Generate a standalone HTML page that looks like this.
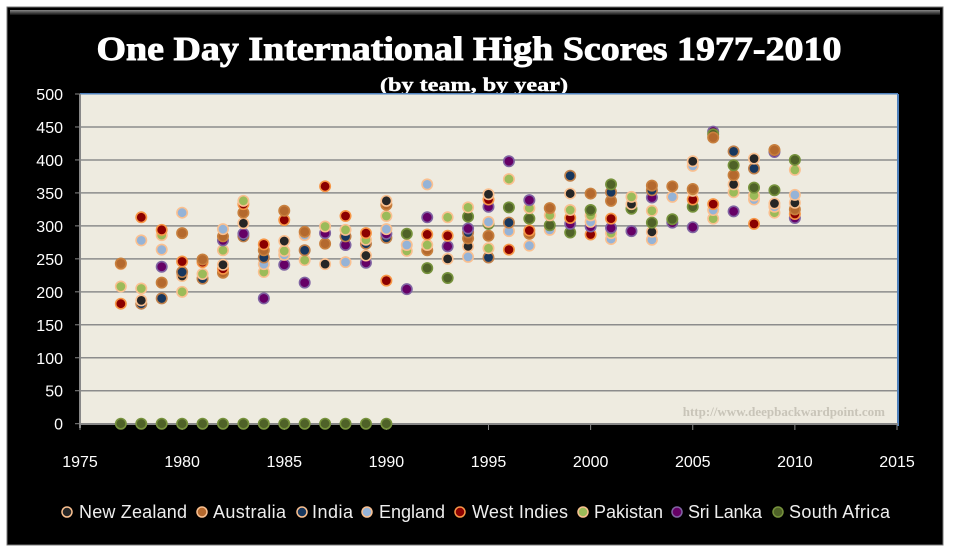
<!DOCTYPE html>
<html><head><meta charset="utf-8"><style>
html,body{margin:0;padding:0;background:#fff;width:954px;height:556px;overflow:hidden}
svg{display:block}
</style></head><body>
<svg id="s" width="954" height="556" xmlns="http://www.w3.org/2000/svg">
<defs>
<linearGradient id="bev" x1="0" y1="0" x2="0" y2="1"><stop offset="0" stop-color="#888"/><stop offset="1" stop-color="#111"/></linearGradient>
</defs>
<rect x="7" y="7" width="936" height="538" fill="#000" stroke="#777" stroke-width="1"/>
<rect x="10" y="10" width="930" height="5" fill="url(#bev)"/>
<text x="469" y="60" text-anchor="middle" fill="#fff" stroke="#fff" stroke-width="0.9" font-family="Liberation Serif, serif" font-weight="bold" font-size="34" textLength="745" lengthAdjust="spacingAndGlyphs">One Day International High Scores 1977-2010</text>
<text x="474" y="91" text-anchor="middle" fill="#fff" stroke="#fff" stroke-width="0.4" font-family="Liberation Serif, serif" font-weight="bold" font-size="19" textLength="188" lengthAdjust="spacingAndGlyphs">(by team, by year)</text>
<rect x="80" y="94" width="817" height="330" fill="#eeebe0"/>
<rect x="897" y="94" width="2" height="332" fill="#4f81bd"/>
<rect x="80" y="93" width="818" height="1.5" fill="#4f81bd"/>
<g id="grid" stroke="#8c8c8c" stroke-width="1.5"></g>
<line x1="80" y1="94" x2="80" y2="428" stroke="#888" stroke-width="2"/>
<line x1="80" y1="424" x2="898" y2="424" stroke="#888" stroke-width="2"/>
<g id="lbl" font-family="Liberation Sans, sans-serif" font-size="16" fill="#fff"></g>
<text x="885" y="416" text-anchor="end" fill="#c8c4b8" font-family="Liberation Serif, serif" font-weight="bold" font-size="13">http://www.deepbackwardpoint.com</text>
<g id="pts"></g>
<g font-family="Liberation Sans, sans-serif" font-size="18" fill="#eee" lengthAdjust="spacingAndGlyphs">
<circle cx="67" cy="512" r="5" fill="#262626" stroke="#fac090" stroke-width="1.5"/><text x="79" y="518" textLength="108">New Zealand</text>
<circle cx="202" cy="512" r="5" fill="#b4692e" stroke="#fac090" stroke-width="1.5"/><text x="213" y="518" textLength="73">Australia</text>
<circle cx="302" cy="512" r="5" fill="#17375e" stroke="#fac090" stroke-width="1.5"/><text x="312" y="518" textLength="41">India</text>
<circle cx="367" cy="512" r="5" fill="#95b3d7" stroke="#fac090" stroke-width="1.5"/><text x="379" y="518" textLength="66">England</text>
<circle cx="460" cy="512" r="5" fill="#8b0000" stroke="#f79646" stroke-width="1.5"/><text x="472" y="518" textLength="96">West Indies</text>
<circle cx="583" cy="512" r="5" fill="#9bbb59" stroke="#fac090" stroke-width="1.5"/><text x="594" y="518" textLength="69">Pakistan</text>
<circle cx="677" cy="512" r="5" fill="#660066" stroke="#8064a2" stroke-width="1.5"/><text x="688" y="518" textLength="74">Sri Lanka</text>
<circle cx="778" cy="512" r="5" fill="#4f6228" stroke="#76923c" stroke-width="1.5"/><text x="789" y="518" textLength="101">South Africa</text>
</g>
</svg>
<script>
var NS="http://www.w3.org/2000/svg";
function X(y){return 80+(y-1975)*20.425}
function Y(v){return 423.7-v*0.6594}
var g=document.getElementById('grid'),l=document.getElementById('lbl');
for(var v=50;v<=450;v+=50){var e=document.createElementNS(NS,'line');e.setAttribute('x1',80);e.setAttribute('x2',897);e.setAttribute('y1',Y(v));e.setAttribute('y2',Y(v));g.appendChild(e);}
for(var v=0;v<=500;v+=50){var t=document.createElementNS(NS,'text');t.setAttribute('x',63);t.setAttribute('y',Y(v)+6);t.setAttribute('text-anchor','end');t.textContent=v;l.appendChild(t);
var k=document.createElementNS(NS,'line');k.setAttribute('x1',75);k.setAttribute('x2',80);k.setAttribute('y1',Y(v));k.setAttribute('y2',Y(v));k.setAttribute('stroke','#888');l.appendChild(k);}
for(var y=1975;y<=2015;y+=5){var t=document.createElementNS(NS,'text');t.setAttribute('x',X(y));t.setAttribute('y',467);t.setAttribute('text-anchor','middle');t.textContent=y;l.appendChild(t);
var k=document.createElementNS(NS,'line');k.setAttribute('x1',X(y));k.setAttribute('x2',X(y));k.setAttribute('y1',424);k.setAttribute('y2',430);k.setAttribute('stroke','#888');l.appendChild(k);}
var C={n:['#262626','#fac090'],a:['#b4692e','#c8803e'],i:['#17375e','#c0804a'],e:['#95b3d7','#fac090'],w:['#8b0000','#f79646'],p:['#9bbb59','#fac090'],s:['#660066','#8064a2'],d:['#4f6228','#76923c']};
var D={1977:'a243 e242 p208 w182',1978:'w313 e278 p205 n187 i182',1979:'w294 p286 e264 s238 a214 i190',1980:'e320 a289 w246 i230 n224 p200',1981:'a249 w245 p227 i220',
1982:'e295 a284 s278 p263 n241 w235 a229',1983:'p338 w333 a320 n304 s288 i284',1984:'w272 a263 i252 e242 p230 s190',1985:'a323 w309 n277 p262 e256 s241',
1986:'a291 e286 i263 p248 s214',1987:'w360 p299 s289 a273 n242',1988:'w315 p294 i284 s271 e245',1989:'w289 p279 i273 n255 s244',
1990:'n338 a332 p315 e295 s288 i282 w217',1991:'d288 e271 p262 s204',1992:'e363 s313 w287 p271 a263 d236',1993:'p313 w285 s269 n250 d221',
1994:'p328 d314 s296 i290 a281 n269 e253',1995:'n348 w340 s329 e306 d303 a285 p266 i252',1996:'s398 p371 d328 i305 e292 w264',
1997:'s339 p327 d311 w293 a288 e270',1998:'a327 p316 d301 e294',1999:'i376 n349 p324 w312 s303 d290',2000:'a349 d324 p316 e306 s299 w287',
2001:'d363 i351 a338 w311 s297 p289 e280',2002:'p344 n333 d326 s292',2003:'a361 i354 s343 p323 d305 n291 e279',2004:'a360 e344 d310 s305',
2005:'n398 e391 a356 p353 w340 d329 s298',2006:'a434 d439 s443 w333 e324 p311',2007:'i413 d392 a377 n363 p351 s322',2008:'n402 i387 d358 p346 e340 w303',
2009:'a415 s412 d354 n334 e329 p320',2010:'d400 p385 e347 n335 a325 w318 s312'};
var P=document.getElementById('pts');
function dot(x,y,c){var e=document.createElementNS(NS,'circle');e.setAttribute('cx',x);e.setAttribute('cy',y);e.setAttribute('r',5.2);e.setAttribute('fill',C[c][0]);e.setAttribute('stroke',C[c][1]);e.setAttribute('stroke-width',1.6);P.appendChild(e);}
for(var y in D){D[y].split(' ').reverse().forEach(function(s){dot(X(+y),Y(+s.slice(1)),s[0]);});}
for(var y=1977;y<=1990;y++)dot(X(y),Y(0),'d');
</script>
</body></html>
